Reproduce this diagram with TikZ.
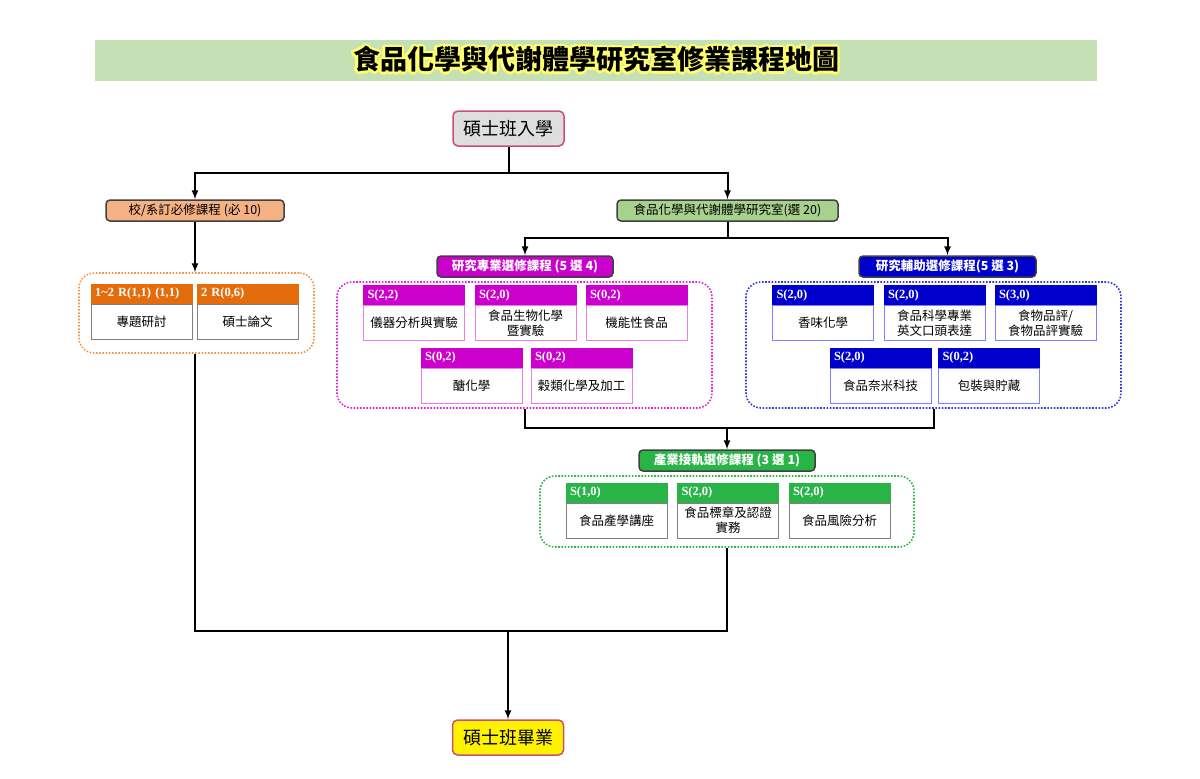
\documentclass[tikz,border=0pt]{standalone}
\usepackage{fontspec}
\setmainfont{Noto Sans CJK TC}
\newfontfamily\hdrfont{Liberation Serif}
\usepackage[copies]{contour}
\contourlength{2.5pt}
\contournumber{16}
\usetikzlibrary{positioning}
\definecolor{titlebg}{RGB}{197,224,180}
\definecolor{glow}{RGB}{255,255,110}
\definecolor{endbd}{RGB}{200,80,115}
\definecolor{startfill}{RGB}{222,222,222}
\definecolor{catbd}{RGB}{64,64,64}
\definecolor{reqfill}{RGB}{244,177,131}
\definecolor{labfill}{RGB}{169,209,142}
\definecolor{ocol}{RGB}{228,108,10}
\definecolor{ogrpc}{RGB}{247,150,70}
\definecolor{mcol}{RGB}{204,0,204}
\definecolor{mbd}{RGB}{230,128,230}
\definecolor{mgrpc}{RGB}{224,32,224}
\definecolor{bcol}{RGB}{0,0,204}
\definecolor{bbd}{RGB}{128,128,255}
\definecolor{bgrpc}{RGB}{51,51,221}
\definecolor{icol}{RGB}{40,180,70}
\definecolor{igrpc}{RGB}{50,180,70}
\definecolor{graybd}{RGB}{128,128,128}
\tikzset{
  every picture/.style={
    line width=2pt, x=1pt, y=-1pt, >=latex
  },
  endpt/.style={draw=endbd, line width=1.5pt, rounded corners=5pt,
    minimum width=111pt, minimum height=35pt, inner sep=0pt,
    font=\fontsize{18}{20}\selectfont},
  cat/.style={draw=catbd, line width=1.5pt, rounded corners=4pt,
    minimum height=21pt, inner sep=2pt, font=\fontsize{12.5}{14}\selectfont},
  wcat/.style={cat, text=white, font=\fontsize{12.5}{14}\selectfont\bfseries},
  grp/.style={line width=1.6pt, dash pattern=on 1.6pt off 1.6pt,
    rounded corners=15pt, inner sep=0pt},
  body/.style={draw=graybd, line width=1pt, fill=white, minimum width=101pt,
    minimum height=35pt, inner sep=2pt, align=center,
    font=\fontsize{12.5}{15}\selectfont},
  hdr/.style={line width=1pt, minimum height=19pt, text width=93pt,
    inner xsep=4pt, inner ysep=0pt, align=left, text=white,
    font=\hdrfont\bfseries\fontsize{12.5}{14}\selectfont},
  % one colour set per group of courses
  ohdr/.style={hdr, fill=ocol, draw=ocol},
  obody/.style={body},
  mhdr/.style={hdr, fill=mcol, draw=mcol},
  mbody/.style={body, draw=mbd},
  bhdr/.style={hdr, fill=bcol, draw=bcol},
  bbody/.style={body, draw=bbd},
  ihdr/.style={hdr, fill=icol, draw=icol},
  ibody/.style={body}
}
\begin{document}
\begin{tikzpicture}
  \useasboundingbox (0,0) rectangle (1200,779);

  \node[fill=titlebg, minimum width=1002pt, minimum height=41pt] (title) at (596,60.5)
  {\fontsize{27}{30}\selectfont\bfseries\contour{glow}{食品化學與代謝體學研究室修業課程地圖}};

  \node[endpt, fill=startfill] (start) at (508.5,128.5) {碩士班入學};
  \node[cat, fill=reqfill, minimum width=178pt] (req) at (195,210.5) {校/系訂必修課程 (必 10)};
  \node[cat, fill=labfill, minimum width=221pt] (lab) at (727.5,210.5) {食品化學與代謝體學研究室(選 20)};

  % group frames
  \node[grp, draw=ogrpc, minimum width=235pt, minimum height=80pt] (ogrp) at (196.5,313) {};
  \node[grp, draw=mgrpc, minimum width=375pt, minimum height=126pt] (mgrp) at (524.5,345) {};
  \node[grp, draw=bgrpc, minimum width=375pt, minimum height=126pt] (bgrp) at (933.5,345) {};
  \node[grp, draw=igrpc, minimum width=374pt, minimum height=71pt] (ggrp) at (727,511.5) {};

  \node[wcat, fill=mcol, minimum width=176pt] (mcat) at (525,266.5) {研究專業選修課程 (5 選 4)};
  \node[wcat, fill=bcol, minimum width=177pt] (bcat) at (947.5,266.5) {研究輔助選修課程(5 選 3)};
  \node[wcat, fill=icol, minimum width=176pt] (icat) at (727,460.5) {產業接軌選修課程 (3 選 1)};

  % courses
  \foreach \nm/\x/\y/\hd/\tx in {
    o1/141.5/321.5/{1\textasciitilde2 R(1,1) (1,1)}/{專題研討},
    o2/247.5/321.5/{2 R(0,6)}/{碩士論文}}
  {\node[obody] (\nm) at (\x,\y) {\tx};
   \node[ohdr, above=0pt of \nm] (h\nm) {\hd};}
  \foreach \nm/\x/\y/\hd/\tx in {
    m1/414/323/{S(2,2)}/{儀器分析與實驗},
    m2/525.5/323/{S(2,0)}/{食品生物化學\\暨實驗},
    m3/636.5/323/{S(0,2)}/{機能性食品},
    m4/471.5/385.5/{S(0,2)}/{醣化學},
    m5/581.5/385.5/{S(0,2)}/{穀類化學及加工}}
  {\node[mbody] (\nm) at (\x,\y) {\tx};
   \node[mhdr, above=0pt of \nm] (h\nm) {\hd};}
  \foreach \nm/\x/\y/\hd/\tx in {
    b1/823/323/{S(2,0)}/{香味化學},
    b2/934.5/323/{S(2,0)}/{食品科學專業\\英文口頭表達},
    b3/1045.5/323/{S(3,0)}/{食物品評/\\食物品評實驗},
    b4/880.5/385.5/{S(2,0)}/{食品奈米科技},
    b5/989/385.5/{S(0,2)}/{包裝與貯藏}}
  {\node[bbody] (\nm) at (\x,\y) {\tx};
   \node[bhdr, above=0pt of \nm] (h\nm) {\hd};}
  \foreach \nm/\x/\y/\hd/\tx in {
    i1/616.5/520.5/{S(1,0)}/{食品產學講座},
    i2/728/520.5/{S(2,0)}/{食品標章及認證\\實務},
    i3/839.5/520.5/{S(2,0)}/{食品風險分析}}
  {\node[ibody] (\nm) at (\x,\y) {\tx};
   \node[ihdr, above=0pt of \nm] (h\nm) {\hd};}

  \node[endpt, fill=yellow] (fin) at (508,737.5) {碩士班畢業};

  % connectors
  \coordinate (j1) at (508.5,173);
  \coordinate (j2) at (727.5,238);
  \coordinate (j3) at (727,428);
  \coordinate (j4) at (508,631);
  \draw[->] (start) -- (j1) -| (req);
  \draw[->] (j1) -| (lab);
  \draw[->] (req) -- (req |- ogrp.north);
  \draw[->] (lab) -- (j2) -| (mcat);
  \draw[->] (j2) -| (bcat);
  \draw (mgrp) |- (j3);
  \draw (bgrp) |- (j3);
  \draw[->] (j3) -- (icat);
  \draw (req |- ogrp.south) |- (j4) -| (ggrp);
  \draw[->] (j4) -- (fin);
\end{tikzpicture}
\end{document}
